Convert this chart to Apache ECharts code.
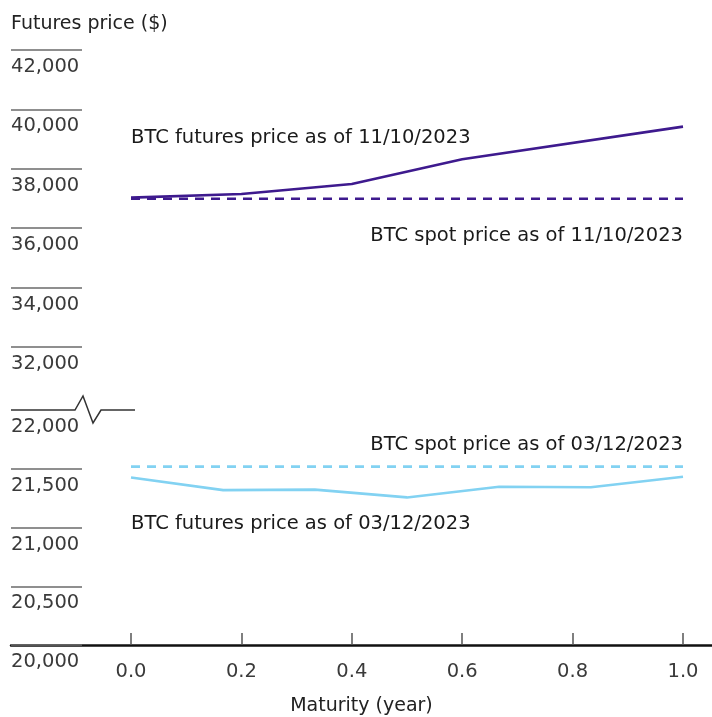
<!DOCTYPE html>
<html>
<head>
<meta charset="utf-8">
<script src="https://cdn.jsdelivr.net/npm/echarts@6/dist/echarts.min.js"></script>
<style>
html,body{margin:0;padding:0;background:#fff;}
#chart{width:712px;height:717px;}
</style>
</head>
<body>
<div id="chart"></div>
<script>
// ---- data ----
const maturitiesNov = [0.0, 0.2, 0.4, 0.6, 1.0];
const futuresNov = [37030, 37150, 37490, 38320, 39420];
const spotNov = 36990;

const maturitiesMar = [0.0, 0.167, 0.333, 0.5, 0.667, 0.833, 1.0];
const futuresMar = [21425, 21318, 21322, 21256, 21347, 21343, 21432];
const spotMar = 21518;

const xTicks = [0, 0.2, 0.4, 0.6, 0.8, 1.0];
const yTicksTop = [32000, 34000, 36000, 38000, 40000, 42000];
const yTicksBottom = [20000, 20500, 21000, 21500, 22000];
const yTickLinesBottom = [20000, 20500, 21000, 21500];

const labels = {
  yTitle: 'Futures price ($)',
  xTitle: 'Maturity (year)',
  futNov: 'BTC futures price as of 11/10/2023',
  spotNov: 'BTC spot price as of 11/10/2023',
  spotMar: 'BTC spot price as of 03/12/2023',
  futMar: 'BTC futures price as of 03/12/2023'
};

const FONT = 'DejaVu Sans';
const FS = 19.5;
const PURPLE = '#3e1a8e';
const BLUE = '#82d2f2';
const XMIN = -120 / 552, XMAX = 1 + 29 / 552;

function pairs(xs, ys) { return xs.map((x, i) => [x, ys[i]]); }
function fmt(v) { return v.toLocaleString('en-US'); }

const chart = echarts.init(document.getElementById('chart'), null, { renderer: 'canvas' });

function yAxisCommon(min, max, interval, tickVals, labelVals) {
  return {
    type: 'value', min: min, max: max, interval: interval,
    axisLine: { show: false, onZero: false },
    splitLine: { show: false },
    axisTick: { show: true, inside: true, length: 71, customValues: tickVals,
      lineStyle: { color: '#6b6b6b', width: 1.5 } },
    axisLabel: { inside: true, margin: 0, align: 'left', verticalAlign: 'top',
      padding: [7, 0, 0, 0], customValues: labelVals,
      color: '#3a3a3a', fontFamily: FONT, fontSize: FS, formatter: fmt }
  };
}

const textFont = FS + 'px "' + FONT + '"';

chart.setOption({
  animation: false,
  backgroundColor: '#fff',
  grid: [
    { left: 11, right: 0, top: 50, height: 297 },
    { left: 11, right: 0, top: 410, height: 238 }
  ],
  xAxis: [
    { gridIndex: 0, type: 'value', min: XMIN, max: XMAX, show: false },
    { gridIndex: 1, type: 'value', min: XMIN, max: XMAX,
      axisLine: { show: true, onZero: false, lineStyle: { color: '#111', width: 2.5 } },
      splitLine: { show: false },
      axisTick: { show: true, inside: true, length: 12, customValues: xTicks,
        lineStyle: { color: '#555', width: 1.5 } },
      axisLabel: { customValues: xTicks, margin: 17, color: '#3a3a3a',
        fontFamily: FONT, fontSize: FS, formatter: v => v.toFixed(1) },
      name: labels.xTitle, nameLocation: 'middle', nameGap: 52,
      nameTextStyle: { color: '#222', fontFamily: FONT, fontSize: 19 }
    }
  ],
  yAxis: [
    Object.assign({ gridIndex: 0 }, yAxisCommon(32000, 42000, 2000, yTicksTop, yTicksTop)),
    Object.assign({ gridIndex: 1 }, yAxisCommon(20000, 22000, 500, yTickLinesBottom, yTicksBottom))
  ],
  series: [
    { type: 'line', xAxisIndex: 0, yAxisIndex: 0, data: pairs(maturitiesNov, futuresNov),
      symbol: 'none', lineStyle: { color: PURPLE, width: 2.6 } },
    { type: 'line', xAxisIndex: 0, yAxisIndex: 0, data: [[0, spotNov], [1, spotNov]],
      symbol: 'none', lineStyle: { color: PURPLE, width: 2.6, type: [9, 7] } },
    { type: 'line', xAxisIndex: 1, yAxisIndex: 1, data: pairs(maturitiesMar, futuresMar),
      symbol: 'none', lineStyle: { color: BLUE, width: 2.6 } },
    { type: 'line', xAxisIndex: 1, yAxisIndex: 1, data: [[0, spotMar], [1, spotMar]],
      symbol: 'none', lineStyle: { color: BLUE, width: 2.6, type: [9, 7] } }
  ],
  graphic: [
    { type: 'text', x: 11, y: 24, style: { text: labels.yTitle, fill: '#222', font: '19px "' + FONT + '"', textAlign: 'left', textVerticalAlign: 'middle' } },
    { type: 'text', x: 131, y: 138, style: { text: labels.futNov, fill: '#1a1a1a', font: textFont, textAlign: 'left', textVerticalAlign: 'middle' } },
    { type: 'text', x: 683, y: 236, style: { text: labels.spotNov, fill: '#1a1a1a', font: textFont, textAlign: 'right', textVerticalAlign: 'middle' } },
    { type: 'text', x: 683, y: 445, style: { text: labels.spotMar, fill: '#1a1a1a', font: textFont, textAlign: 'right', textVerticalAlign: 'middle' } },
    { type: 'text', x: 131, y: 524, style: { text: labels.futMar, fill: '#1a1a1a', font: textFont, textAlign: 'left', textVerticalAlign: 'middle' } },
    { type: 'polyline', shape: { points: [[11, 410], [75, 410], [83, 396], [93, 423], [101, 410], [135, 410]] },
      style: { stroke: '#333', lineWidth: 1.5, fill: null } }
  ]
});
</script>
</body>
</html>
